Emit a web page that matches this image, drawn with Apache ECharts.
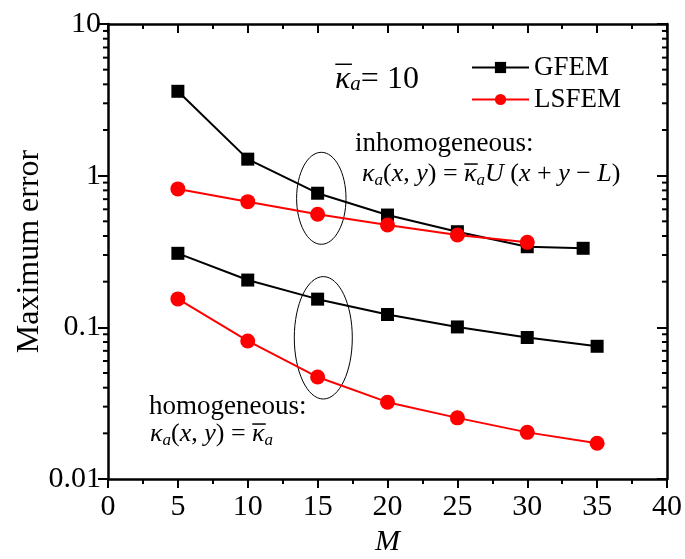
<!DOCTYPE html>
<html>
<head>
<meta charset="utf-8">
<script src="https://cdn.jsdelivr.net/npm/echarts@6/dist/echarts.min.js"></script>
<style>
  html, body { margin: 0; padding: 0; background: #fff; }
  #chart { width: 685px; height: 559px; }
</style>
</head>
<body>
<div id="chart"></div>
<script>
// Number of modes M and maximum error for each scheme
const mInhomGFEM = [5, 10, 15, 20, 25, 30, 34];
const errInhomGFEM = [3.6, 1.285, 0.766, 0.55, 0.427, 0.34, 0.332];
const mInhomLSFEM = [5, 10, 15, 20, 25, 30];
const errInhomLSFEM = [0.818, 0.674, 0.557, 0.473, 0.406, 0.3635];
const mHom = [5, 10, 15, 20, 25, 30, 35];
const errHomGFEM = [0.3076, 0.205, 0.1534, 0.1215, 0.1006, 0.0857, 0.075];
const errHomLSFEM = [0.154, 0.0813, 0.047, 0.0321, 0.0253, 0.0203, 0.0172];

// Axis ranges and log minor tick positions
const xTicks = [0, 40, 5];
const yRange = [0.01, 10];
const yMinorTicks = [];
[0.01, 0.1, 1].forEach(d => { for (let k = 2; k <= 9; k++) yMinorTicks.push(+(d * k).toPrecision(3)); });

const FONT = '"Liberation Serif", "Times New Roman", serif';
const zip = (xs, ys) => xs.map((x, i) => [x, ys[i]]);

const chart = echarts.init(document.getElementById('chart'));

const axisLine = { show: true, onZero: false, lineStyle: { color: '#000', width: 2.5 } };
const tickStyle = { color: '#000', width: 2 };

function xAxisDef(pos, showLabel) {
  return {
    type: 'value', position: pos, min: xTicks[0], max: xTicks[1], interval: xTicks[2],
    axisLine: axisLine,
    axisTick: { show: true, inside: pos === 'top', length: 9, lineStyle: tickStyle },
    minorTick: { show: true, splitNumber: 2, length: 5, lineStyle: tickStyle },
    axisLabel: { show: showLabel, color: '#000', fontFamily: FONT, fontSize: 30, margin: 13 },
    splitLine: { show: false },
    name: showLabel ? 'M' : '',
    nameLocation: 'middle', nameGap: 48, nameMoveOverlap: false,
    nameTextStyle: { color: '#000', fontFamily: FONT, fontSize: 30, fontStyle: 'italic' }
  };
}
function yAxisDef(pos, showLabel) {
  return {
    type: 'log', logBase: 10, position: pos, min: yRange[0], max: yRange[1],
    axisLine: axisLine,
    axisTick: { show: true, inside: pos === 'right', length: 10, lineStyle: tickStyle },
    axisLabel: {
      show: showLabel, color: '#000', fontFamily: FONT, fontSize: 30, margin: 7,
      formatter: v => String(+v.toPrecision(3))
    },
    splitLine: { show: false },
    name: showLabel ? 'Maximum error' : '',
    nameLocation: 'middle', nameRotate: 90, nameGap: 62, nameMoveOverlap: false,
    nameTextStyle: { color: '#000', fontFamily: FONT, fontSize: 32 }
  };
}

function lineSeries(name, data, color, symbol, size) {
  return {
    name: name, type: 'line', data: data, xAxisIndex: 0, yAxisIndex: 0,
    symbol: symbol, symbolSize: size, showSymbol: true,
    lineStyle: { color: color, width: 2 },
    itemStyle: { color: color },
    emphasis: { disabled: true }, animation: false
  };
}

// Minor ticks of the log axes (2..9 within every decade)
const minorTickSeries = {
  type: 'custom', xAxisIndex: 0, yAxisIndex: 0, silent: true, clip: false, animation: false,
  data: yMinorTicks.map(v => [0, v]),
  renderItem: function (params, api) {
    const left = api.coord([xTicks[0], api.value(1)]);
    const right = api.coord([xTicks[1], api.value(1)]);
    return {
      type: 'group',
      children: [
        { type: 'line', shape: { x1: left[0] - 5, y1: left[1], x2: left[0], y2: left[1] }, style: { stroke: '#000', lineWidth: 2 } },
        { type: 'line', shape: { x1: right[0] - 5, y1: right[1], x2: right[0], y2: right[1] }, style: { stroke: '#000', lineWidth: 2 } }
      ]
    };
  }
};

// Math-style annotation: tokens are [kind, text]; kind 'kbar' is an italic kappa with an overbar
const measureCtx = document.createElement('canvas').getContext('2d');
function makeRich(size) {
  const sub = Math.round(size * 0.65);
  return {
    it: { fontFamily: FONT, fontSize: size, fontStyle: 'italic', color: '#000', lineHeight: 30 },
    kbar: { fontFamily: FONT, fontSize: size, fontStyle: 'italic', color: '#000', lineHeight: 30 },
    rm: { fontFamily: FONT, fontSize: size, color: '#000', lineHeight: 30 },
    sub: { fontFamily: FONT, fontSize: sub, fontStyle: 'italic', color: '#000', lineHeight: 8, verticalAlign: 'bottom' }
  };
}
function tokenFont(kind, size) {
  const italic = kind !== 'rm';
  const s = kind === 'sub' ? Math.round(size * 0.65) : size;
  return (italic ? 'italic ' : '') + s + 'px ' + FONT;
}
function mathText(x, cy, size, tokens) {
  const rich = makeRich(size);
  const els = [{
    type: 'text', left: x, top: cy - 15, silent: true, z: 10,
    style: { text: tokens.map(t => '{' + t[0] + '|' + t[1] + '}').join(''), rich: rich, fill: '#000' }
  }];
  let cursor = x;
  tokens.forEach(t => {
    measureCtx.font = tokenFont(t[0], size);
    const w = measureCtx.measureText(t[1]).width;
    if (t[0] === 'kbar') {
      const yBar = cy - size * 0.46;
      els.push({
        type: 'line', silent: true, z: 10,
        shape: { x1: cursor + w * 0.02, y1: yBar, x2: cursor + w * 1.1, y2: yBar },
        style: { stroke: '#000', lineWidth: 1.5 }
      });
    }
    cursor += w;
  });
  return els;
}

const kappaHom = [['it', '\u03BA'], ['sub', 'a'], ['rm', '('], ['it', 'x'], ['rm', ', '], ['it', 'y'], ['rm', ') = '], ['kbar', '\u03BA'], ['sub', 'a']];
const kappaInhom = kappaHom.concat([['it', 'U'], ['rm', ' ('], ['it', 'x'], ['rm', ' + '], ['it', 'y'], ['rm', ' \u2212 '], ['it', 'L'], ['rm', ')']]);

chart.setOption({
  animation: false,
  backgroundColor: '#fff',
  grid: { left: 108, right: 18, top: 24, bottom: 80, containLabel: false, outerBoundsMode: 'none' },
  xAxis: [xAxisDef('bottom', true), xAxisDef('top', false)],
  yAxis: [yAxisDef('left', true), yAxisDef('right', false)],
  legend: {
    data: ['GFEM', 'LSFEM'], orient: 'vertical', left: 471, top: 54, padding: 0,
    itemWidth: 57, itemHeight: 14, itemGap: 5, selectedMode: false,
    textStyle: { color: '#000', fontFamily: FONT, fontSize: 27 }
  },
  series: [
    lineSeries('GFEM', zip(mInhomGFEM, errInhomGFEM), '#000', 'rect', 13),
    lineSeries('GFEM', zip(mHom, errHomGFEM), '#000', 'rect', 13),
    lineSeries('LSFEM', zip(mInhomLSFEM, errInhomLSFEM), '#ff0000', 'circle', 15),
    lineSeries('LSFEM', zip(mHom, errHomLSFEM), '#ff0000', 'circle', 15),
    minorTickSeries
  ],
  graphic: [].concat(
    mathText(335, 79, 32, [['kbar', '\u03BA'], ['sub', 'a'], ['rm', '= 10']]),
    mathText(355, 145, 27, [['rm', 'inhomogeneous:']]),
    mathText(362, 176, 26, kappaInhom),
    mathText(149, 408, 27, [['rm', 'homogeneous:']]),
    mathText(150, 436, 26, kappaHom),
    [
      { type: 'ellipse', silent: true, shape: { cx: 321.3, cy: 198.3, rx: 24.7, ry: 46 }, style: { fill: 'none', stroke: '#000', lineWidth: 1 } },
      { type: 'ellipse', silent: true, shape: { cx: 323.3, cy: 337.8, rx: 29, ry: 61.2 }, style: { fill: 'none', stroke: '#000', lineWidth: 1 } }
    ]
  )
});
</script>
</body>
</html>
